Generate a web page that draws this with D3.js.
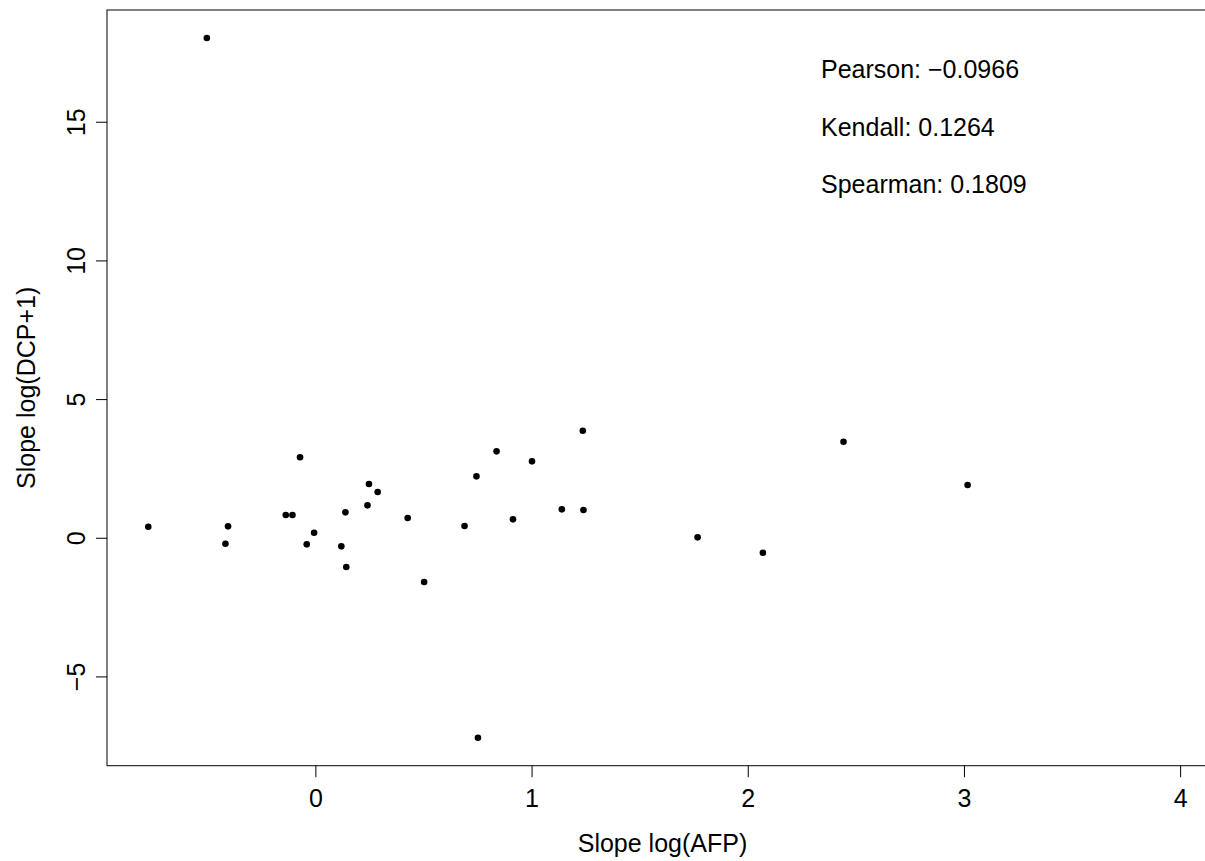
<!DOCTYPE html>
<html>
<head>
<meta charset="utf-8">
<script src="https://cdn.jsdelivr.net/npm/d3@7"></script>
<style>
  html, body { margin: 0; padding: 0; background: #fff; }
  svg { display: block; }
  text { font-family: "Liberation Sans", Arial, Helvetica, sans-serif; fill: #000; }
</style>
</head>
<body>
<svg id="chart" width="1205" height="861"></svg>
<script>
// ---- data ----
const slopeAFP = [-0.773, -0.404, -0.416, -0.071, -0.137, -0.106, -0.006, -0.040, 0.139, 0.120,
                  0.143, 0.248, 0.288, 0.241, 0.427, 0.503, 0.690, 0.745, 0.838, 0.914,
                  1.002, 1.140, 1.240, 1.237, 1.768, 2.070, 2.443, -0.502, 0.752, 3.017];
const slopeDCP = [0.397, 0.411, -0.216, 2.90, 0.819, 0.819, 0.18, -0.238, 0.916, -0.310,
                  -1.057, 1.937, 1.648, 1.168, 0.710, -1.598, 0.422, 2.214, 3.116, 0.664,
                  2.755, 1.024, 0.999, 3.859, 0.014, -0.541, 3.462, 18.02, -7.21, 1.90];
const xTicks = [0, 1, 2, 3, 4];
const yTicks = [-5, 0, 5, 10, 15];
const corrLabels = ["Pearson: \u22120.0966", "Kendall: 0.1264", "Spearman: 0.1809"];
const xTitle = "Slope log(AFP)";
const yTitle = "Slope log(DCP+1)";

(function () {
// ---- layout ----
const pLeft = 107, pRight = 1221.4, pTop = 10, pBottom = 765.7;
const fs = 25;

const svg = d3.select("#chart");

// R style 4% extension
const xMin = d3.min(slopeAFP), xMax = 4;
const xr = xMax - xMin;
const yMin = d3.min(slopeDCP), yMax = d3.max(slopeDCP);
const yr = yMax - yMin;

const x = d3.scaleLinear().domain([xMin - 0.04 * xr, xMax + 0.04 * xr]).range([pLeft, pRight]);
const y = d3.scaleLinear().domain([yMin - 0.04 * yr, yMax + 0.04 * yr]).range([pBottom, pTop]);

// x axis
const gx = svg.append("g").attr("transform", `translate(0,${pBottom})`)
  .call(d3.axisBottom(x).tickValues(xTicks).tickFormat(d3.format("d")).tickSize(11.5).tickSizeOuter(0));
gx.select(".domain").remove();
gx.selectAll(".tick line").attr("stroke", "#000").attr("stroke-width", 1);
gx.selectAll(".tick text").attr("font-size", fs).attr("font-family", "Liberation Sans, Arial, sans-serif")
  .attr("dy", null).attr("y", 807 - pBottom);

// y axis
const gy = svg.append("g").attr("transform", `translate(${pLeft},0)`)
  .call(d3.axisLeft(y).tickValues(yTicks).tickFormat(d => d < 0 ? "\u2212" + Math.abs(d) : d).tickSize(11).tickSizeOuter(0));
gy.select(".domain").remove();
gy.selectAll(".tick line").attr("stroke", "#000").attr("stroke-width", 1);
gy.selectAll(".tick text").attr("font-size", fs).attr("font-family", "Liberation Sans, Arial, sans-serif")
  .attr("x", 0).attr("dy", null).attr("text-anchor", "middle")
  .attr("transform", `translate(${85 - pLeft},0) rotate(-90)`);

// box
svg.append("rect").attr("x", pLeft).attr("y", pTop)
  .attr("width", pRight - pLeft).attr("height", pBottom - pTop)
  .attr("fill", "none").attr("stroke", "#000").attr("stroke-width", 1);

// points
svg.append("g").selectAll("circle").data(slopeAFP.map((v, i) => [v, slopeDCP[i]]))
  .enter().append("circle")
  .attr("cx", d => x(d[0])).attr("cy", d => y(d[1])).attr("r", 3.3).attr("fill", "#000");

// correlation text
svg.append("g").selectAll("text").data(corrLabels).enter().append("text")
  .attr("x", 821).attr("y", (d, i) => 78 + i * 57.5)
  .attr("font-size", fs).text(d => d);

// titles
svg.append("text").attr("x", 662.5).attr("y", 852)
  .attr("text-anchor", "middle").attr("font-size", fs).text(xTitle);
svg.append("text").attr("transform", `translate(34.5,${(pTop + pBottom) / 2}) rotate(-90)`)
  .attr("text-anchor", "middle").attr("font-size", fs).text(yTitle);
})();
</script>
</body>
</html>
